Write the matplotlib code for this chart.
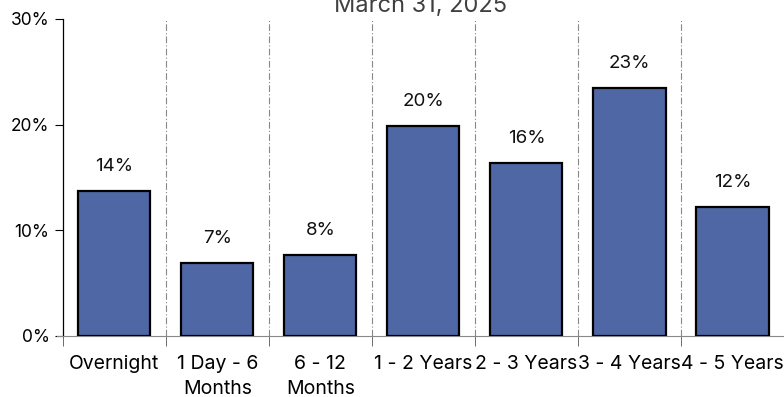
import matplotlib.pyplot as plt
import numpy as np

plt.rcParams['font.family'] = ['Inter', 'DejaVu Sans']

# maturity buckets and share of portfolio (%)
categories = ['Overnight', '1 Day - 6\nMonths', '6 - 12\nMonths', '1 - 2 Years',
              '2 - 3 Years', '3 - 4 Years', '4 - 5 Years']
shares = [13.7, 6.9, 7.7, 19.9, 16.4, 23.5, 12.2]
labels = ['14%', '7%', '8%', '20%', '16%', '23%', '12%']
yticks = [0, 10, 20, 30]

fig = plt.figure(figsize=(7.84, 3.97), dpi=100)
ax = fig.add_axes([0.080, 0.1537, 0.920, 0.7985])

x = np.arange(len(categories))
ax.bar(x, shares, width=0.7, color='#4F67A5', edgecolor='black', linewidth=1.6, zorder=3)

for xi, v, lab in zip(x, shares, labels):
    ax.text(xi, v + 2.3, lab, ha='center', va='center', fontsize=13.5, color='#111111')

# dash-dot separators between buckets
for b in x[:-1] + 0.5:
    ax.plot([b, b], [0, 30], color='#888888', linestyle=(0, (6, 2, 1, 2)), linewidth=0.8, zorder=1)

ax.set_xlim(-0.5, len(categories) - 0.5)
ax.set_ylim(0, 30)
ax.set_yticks(yticks)
ax.set_yticklabels([f'{t}%' for t in yticks], fontsize=12.5)

ax.set_xticks(x)
ax.set_xticklabels(categories, fontsize=14, linespacing=1.5)
ax.tick_params(axis='x', length=0, pad=14)
ax.set_xticks(np.arange(len(categories)) - 0.5, minor=True)
ax.tick_params(axis='x', which='minor', length=7, color='#555555', direction='out')
ax.tick_params(axis='y', length=6, width=0.8)

for s in ['top', 'right']:
    ax.spines[s].set_visible(False)
ax.spines['bottom'].set_color('#888888')
ax.spines['bottom'].set_bounds(-0.56, len(categories) - 0.5)
ax.spines['left'].set_linewidth(0.9)

fig.text(0.536, 0.970, 'March 31, 2025', ha='center', va='baseline', fontsize=17, color='#404040')

fig.savefig('out.png', dpi=100)
